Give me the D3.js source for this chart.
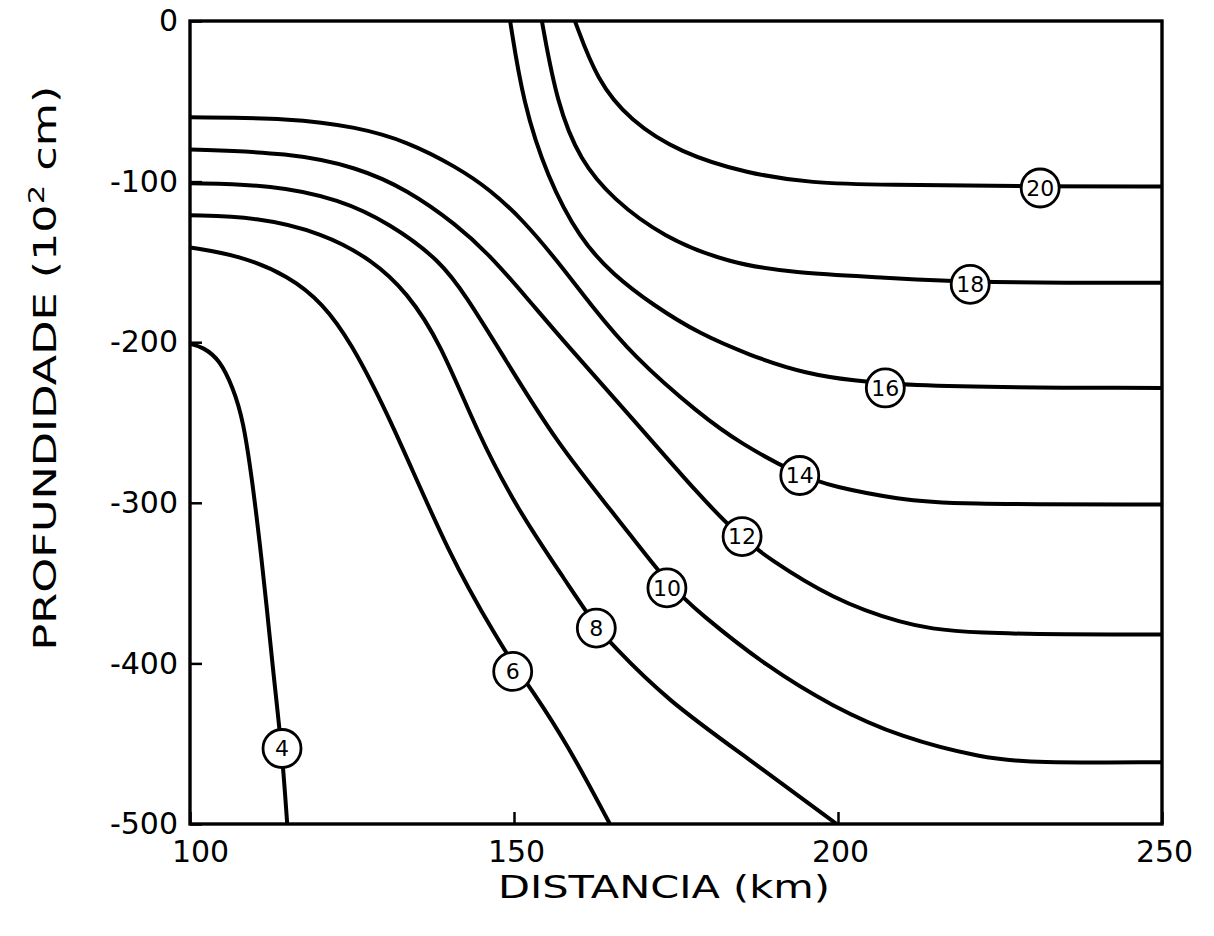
<!DOCTYPE html>
<html><head><meta charset="utf-8">
<script src="https://cdn.jsdelivr.net/npm/d3@7"></script>
<style>body{margin:0;background:#fff}</style>
</head><body><svg id="c" width="1214" height="936"></svg>
<script>
// ---- data ----
const xTicks = [100, 150, 200, 250];
const yTicks = [0, -100, -200, -300, -400, -500];
const levels = [4, 6, 8, 10, 12, 14, 16, 18, 20];
const c4  = [[100,-201],[102,-203],[104.6,-211],[106.6,-228],[108.2,-248],[109.6,-286],[110.8,-326],[111.9,-367],[112.8,-404],[114.2,-454],[115,-500]];
const c6  = [[100,-141],[107.7,-146],[115.4,-159],[120.5,-176],[124.7,-199],[131,-248],[140.1,-334],[147.8,-387],[150,-401],[152.5,-415],[158.2,-450],[164.8,-500]];
const c8  = [[100,-121],[110.3,-122],[120.5,-132],[128.2,-149],[133.5,-169],[138.6,-200],[144.3,-256],[150.5,-304],[158.2,-350],[162.5,-376],[164.8,-387],[173.6,-423],[186.4,-460],[199.8,-500]];
const c10 = [[100,-101],[112.8,-102],[123.1,-111],[130.8,-126],[138.6,-149],[142.7,-172],[147.8,-205],[156.6,-263],[165.9,-309],[173.6,-350],[178.7,-369],[189,-402],[199.2,-427],[209.6,-446],[222.4,-459],[230.1,-462],[250,-461.5]];
const c12 = [[100,-80],[115.4,-82],[125.8,-91],[133.5,-105],[141.2,-127],[146.3,-146],[151.7,-171],[158.2,-202],[168.4,-248],[178.7,-296],[184.6,-320],[189,-334],[199.2,-360],[209.6,-375],[218.8,-382],[250,-382]];
const c14 = [[100,-60],[115.4,-60.4],[125.8,-66],[133.5,-75],[141.2,-91],[146.3,-105],[151.4,-124],[156.6,-149],[161.7,-176],[168.4,-209],[178.7,-245],[184.9,-263],[194.1,-283],[199.2,-290],[209.6,-298],[217.3,-301],[250,-301]];
const c16 = [[149.4,0],[151.4,-51],[155.1,-97],[160.2,-136],[165.3,-158],[171.5,-177],[178.7,-195],[186.4,-208],[194.1,-219],[207.3,-228],[250,-228.5]];
const c18 = [[154.3,0],[156.6,-51],[160.2,-87],[165.3,-111],[173,-134.5],[183.3,-151],[193.7,-157],[206.5,-159.5],[220.4,-163],[250,-163]];
const c20 = [[159.4,0],[162.8,-37],[167.9,-62],[175.6,-82],[186,-95],[196.1,-101],[206.5,-102],[231,-103],[250,-103]];
const contourLines = [c4, c6, c8, c10, c12, c14, c16, c18, c20];
const labelX = [114.2, 149.8, 162.7, 173.6, 185.2, 194.1, 207.3, 220.4, 231.2];
const labelY = [-453, -405, -378, -353, -321, -283, -228.5, -164, -104];
const xTitle = "DISTANCIA (km)";
const yTitleMain = "PROFUNDIDADE (10";
const yTitleSup = "2";
const yTitleEnd = " cm)";

// ---- layout ----
const W = 1214, H = 936;
const m = {left: 190, top: 21, right: 52, bottom: 112};
const pw = W - m.left - m.right, ph = H - m.top - m.bottom;
const font = "'DejaVu Sans', sans-serif";

const svg = d3.select("#c");
svg.append("rect").attr("width", W).attr("height", H).attr("fill", "#fff");
const g = svg.append("g").attr("transform", `translate(${m.left},${m.top})`);

const x = d3.scaleLinear().domain([100, 250]).range([0, pw]);
const y = d3.scaleLinear().domain([0, -500]).range([0, ph]);

svg.append("defs").append("clipPath").attr("id", "clip")
  .append("rect").attr("width", pw).attr("height", ph);

const line = d3.line().x(d => x(d[0])).y(d => y(d[1])).curve(d3.curveBasis);

g.append("g").attr("clip-path", "url(#clip)")
  .selectAll("path").data(contourLines).join("path")
  .attr("d", line).attr("fill", "none").attr("stroke", "#000")
  .attr("stroke-width", 4).attr("stroke-linecap", "round");

// axes
const xAxis = d3.axisBottom(x).tickValues(xTicks).tickSize(-12).tickPadding(17).tickFormat(d3.format("d"));
const yAxis = d3.axisLeft(y).tickValues(yTicks).tickSize(-12).tickPadding(12).tickFormat(d => d === 0 ? "0" : "-" + Math.abs(d));
const gx = g.append("g").attr("transform", `translate(0,${ph})`).call(xAxis);
const gy = g.append("g").call(yAxis);
[gx, gy].forEach(a => {
  a.select(".domain").remove();
  a.selectAll("line").attr("stroke", "#000").attr("stroke-width", 2.5);
  a.selectAll("text").attr("font-family", font).attr("font-size", 30).attr("fill", "#000");
});
gx.selectAll("text").attr("dx", d => d === 100 ? 10 : 2);

// frame
g.append("rect").attr("width", pw).attr("height", ph).attr("fill", "none")
  .attr("stroke", "#000").attr("stroke-width", 3.4);

// contour labels
const lab = g.selectAll("g.lab").data(levels).join("g").attr("class", "lab")
  .attr("transform", (d, i) => `translate(${x(labelX[i])},${y(labelY[i])})`);
lab.append("circle").attr("r", 19).attr("fill", "#fff").attr("stroke", "#000").attr("stroke-width", 2.8);
lab.append("text").text(d => d).attr("text-anchor", "middle").attr("dy", "0.36em")
  .attr("font-family", font).attr("font-size", 22).attr("fill", "#000");

// titles
svg.append("text").attr("x", 664).attr("y", 898).attr("text-anchor", "middle")
  .attr("font-family", font).attr("font-size", 32).attr("fill", "#000")
  .attr("textLength", 332).attr("lengthAdjust", "spacingAndGlyphs").text(xTitle);

const yt = svg.append("text").attr("transform", "translate(56,368) rotate(-90)")
  .attr("text-anchor", "middle").attr("font-family", font).attr("font-size", 32).attr("fill", "#000")
  .attr("textLength", 565).attr("lengthAdjust", "spacingAndGlyphs");
yt.append("tspan").text(yTitleMain);
yt.append("tspan").attr("dy", -12).attr("font-size", 22).text(yTitleSup);
yt.append("tspan").attr("dy", 12).text(yTitleEnd);
</script></body></html>
